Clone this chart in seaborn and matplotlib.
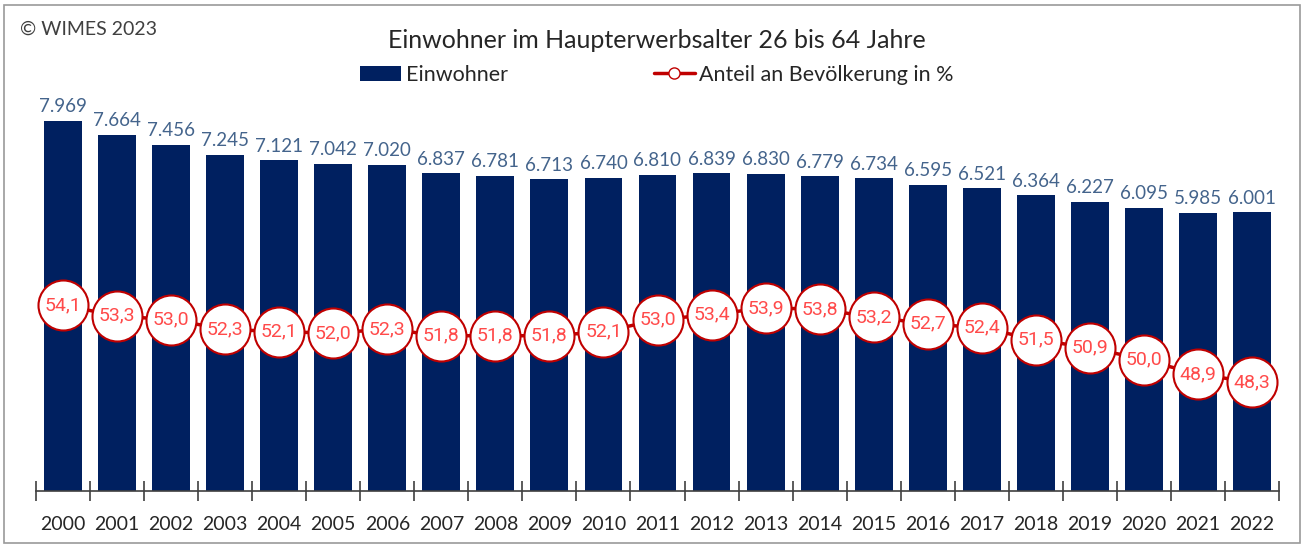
import matplotlib
matplotlib.use("Agg")
import matplotlib.pyplot as plt
from matplotlib.lines import Line2D
from matplotlib.patches import Patch, Rectangle
import seaborn as sns
import numpy as np

years = [str(y) for y in range(2000, 2023)]
einwohner = [7969, 7664, 7456, 7245, 7121, 7042, 7020, 6837, 6781, 6713, 6740, 6810,
             6839, 6830, 6779, 6734, 6595, 6521, 6364, 6227, 6095, 5985, 6001]
anteil = [54.1, 53.3, 53.0, 52.3, 52.1, 52.0, 52.3, 51.8, 51.8, 51.8, 52.1, 53.0,
          53.4, 53.9, 53.8, 53.2, 52.7, 52.4, 51.5, 50.9, 50.0, 48.9, 48.3]

title = "Einwohner im Haupterwerbsalter 26 bis 64 Jahre"
leg_bar = "Einwohner"
leg_line = "Anteil an Bevölkerung in %"
copyright_txt = "© WIMES 2023"

BAR = "#002060"
VAL = "#44648c"
RED_EDGE = "#c00000"
RED_TXT = "#ff4a4a"

sns.set_theme(style="white")
plt.rcParams["font.family"] = ["Lato", "DejaVu Sans"]

W, H = 1307, 548
fig = plt.figure(figsize=(W / 100, H / 100), dpi=100)
# axes: x 36..1279, y 73..491 (pixels from top)
ax = fig.add_axes([36 / W, 1 - 491 / H, (1279 - 36) / W, (491 - 73) / H])

sns.barplot(x=years, y=einwohner, ax=ax, color=BAR, width=0.7, saturation=1, edgecolor="none")
ax.set_xlim(-0.5, len(years) - 0.5)
ax.set_ylim(0, 9000)
for i, v in enumerate(einwohner):
    ax.text(i, v + 120, f"{v:,}".replace(",", "."), ha="center", va="bottom",
            fontsize=13.5, color=VAL)

for s in ["top", "right", "left"]:
    ax.spines[s].set_visible(False)
ax.spines["bottom"].set_color("#404040")
ax.spines["bottom"].set_linewidth(1.2)
ax.set_yticks([])
ax.set_xticks(np.arange(len(years) + 1) - 0.5, minor=False)
ax.set_xticklabels([])
ax.tick_params(axis="x", which="major", direction="inout", length=14, width=1.2,
               color="#404040", bottom=True)
for i, y in enumerate(years):
    ax.text(i, -0.06, y, transform=ax.get_xaxis_transform(), ha="center", va="top",
            fontsize=14, color="#262626")
ax.set_xlabel("")
ax.set_ylabel("")

ax2 = ax.twinx()
ax2.set_ylim(40.1, 71.6)
ax2.plot(range(len(anteil)), anteil, color=RED_EDGE, lw=2.5, marker="o", markersize=36,
         markerfacecolor="white", markeredgecolor=RED_EDGE, markeredgewidth=1.5, zorder=3)
for i, v in enumerate(anteil):
    ax2.text(i, v, f"{v:.1f}".replace(".", ","), ha="center", va="center",
             fontsize=14, color=RED_TXT, family=["Roboto", "DejaVu Sans"], zorder=4)
ax2.set_yticks([])
for s in ax2.spines.values():
    s.set_visible(False)

fig.text(657 / W, 1 - 40 / H, title, ha="center", va="center", fontsize=18,
         color="#262626")
fig.text(20 / W, 1 - 29 / H, copyright_txt, ha="left", va="center", fontsize=14,
         color="#404040")

handles = [Patch(facecolor=BAR, edgecolor="none"),
           Line2D([0], [0], color=RED_EDGE, lw=2.5, marker="o", markersize=8,
                  markerfacecolor="white", markeredgecolor=RED_EDGE)]
fig.legend(handles, [leg_bar, leg_line], loc="center", bbox_to_anchor=(657 / W, 1 - 75 / H),
           ncol=2, frameon=False, columnspacing=6.8, handlelength=1.9,
           handletextpad=0.2, labelcolor="#262626", prop={"size": 15.5})

fig.patches.append(Rectangle((4 / W, 5 / H), (1300 - 4) / W, (543 - 5) / H,
                             transform=fig.transFigure, fill=False, edgecolor="#9a9a9a", lw=1.2))

fig.savefig("out.png", dpi=100)
